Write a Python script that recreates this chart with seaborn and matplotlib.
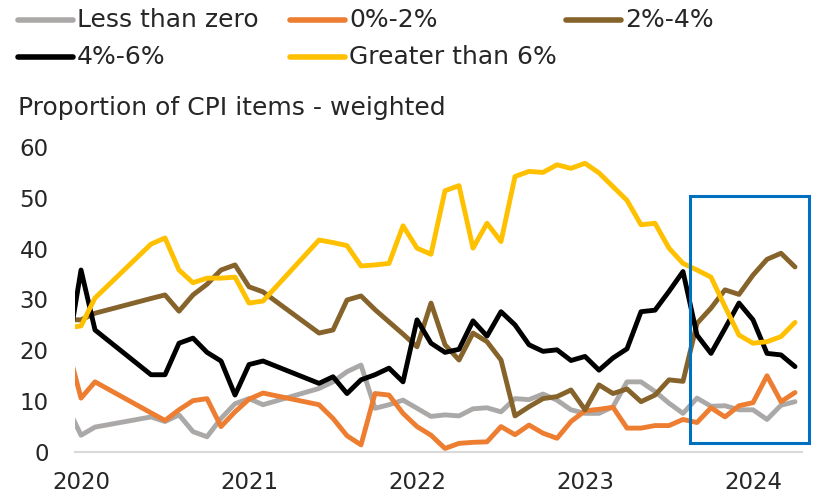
import matplotlib
matplotlib.use("Agg")
import matplotlib.pyplot as plt
import seaborn as sns
import pandas as pd
from matplotlib.lines import Line2D
from matplotlib.patches import Rectangle

# months since Jan 2020 (some months missing in the source data)
months = [-1, 0, 1] + list(range(5, 14)) + list(range(17, 52))

less_than_zero = [9.0, 3.3, 4.9, 6.9, 6.0, 7.3, 4.0, 3.0, 6.6, 9.5, 10.5, 9.3,
                  12.5, 13.8, 15.8, 17.1, 8.6, 9.3, 10.2, 8.6, 7.0, 7.3, 7.1, 8.5,
                  8.7, 7.9, 10.5, 10.3, 11.4, 10.2, 8.3, 7.6, 7.6, 8.9, 13.8, 13.8,
                  11.9, 9.6, 7.6, 10.6, 9.0, 9.1, 8.3, 8.3, 6.4, 9.2, 9.9]
zero_to_two = [21.0, 10.6, 13.8, 7.7, 6.2, 8.3, 10.1, 10.5, 5.0, 7.9, 10.4, 11.6,
               9.3, 6.6, 3.2, 1.4, 11.5, 11.2, 7.6, 5.0, 3.3, 0.7, 1.7, 1.9,
               2.0, 5.0, 3.4, 5.3, 3.7, 2.7, 6.0, 8.1, 8.4, 8.8, 4.7, 4.7,
               5.2, 5.2, 6.4, 5.8, 8.7, 6.9, 9.1, 9.7, 15.0, 9.9, 11.7]
two_to_four = [26.0, 26.0, 27.3, 30.2, 30.9, 27.7, 30.9, 33.0, 35.8, 36.8, 32.5, 31.5,
               23.4, 24.0, 29.9, 30.7, 28.0, 25.6, 23.2, 20.7, 29.3, 21.1, 18.1, 23.4,
               21.7, 18.1, 7.1, 8.9, 10.5, 10.9, 12.2, 8.3, 13.2, 11.5, 12.4, 9.9,
               11.2, 14.2, 13.9, 25.3, 28.3, 31.9, 31.0, 34.8, 37.9, 39.1, 36.4]
four_to_six = [19.0, 35.8, 24.0, 15.2, 15.2, 21.4, 22.4, 19.6, 17.9, 11.2, 17.2, 17.9,
               13.5, 14.8, 11.5, 14.2, 15.2, 16.5, 13.8, 26.0, 21.4, 19.6, 20.2, 25.8,
               22.8, 27.6, 25.0, 21.1, 19.8, 20.1, 18.0, 18.8, 16.1, 18.5, 20.3, 27.6,
               27.9, 31.6, 35.5, 23.0, 19.4, 24.3, 29.3, 26.0, 19.4, 19.1, 16.8]
greater_than_six = [24.4, 24.8, 30.3, 40.9, 42.1, 35.8, 33.3, 34.2, 34.2, 34.4, 29.3, 29.7,
                    41.7, 41.2, 40.6, 36.6, 36.8, 37.1, 44.5, 40.1, 38.9, 51.4, 52.4, 40.1,
                    45.0, 41.4, 54.2, 55.2, 55.0, 56.5, 55.8, 56.8, 54.9, 52.2, 49.5, 44.7,
                    45.0, 40.1, 37.1, 35.8, 34.4, 28.6, 23.0, 21.4, 21.7, 22.7, 25.5]

series_names = ["Less than zero", "0%-2%", "2%-4%", "4%-6%", "Greater than 6%"]
colors = ["#ABA8A8", "#ED7D31", "#85632A", "#000000", "#FFC000"]
year_ticks = [0, 12, 24, 36, 48]
year_labels = ["2020", "2021", "2022", "2023", "2024"]

frames = []
for name, vals in zip(series_names, [less_than_zero, zero_to_two, two_to_four,
                                     four_to_six, greater_than_six]):
    frames.append(pd.DataFrame({"month": months, "value": vals, "series": name}))
df = pd.concat(frames, ignore_index=True)

sns.set_theme(style="white")
plt.rcParams["font.family"] = ["DejaVu Sans"]
FS = 16.5   # tick labels
TFS = 18    # legend / title (source font is wider than DejaVu)

fig = plt.figure(figsize=(8.17, 4.96), dpi=100)
ax = fig.add_axes([75 / 817, 1 - 452 / 496, 727 / 817, 305 / 496])

sns.lineplot(data=df, x="month", y="value", hue="series", hue_order=series_names,
             palette=colors, linewidth=3.5, legend=False, sort=True, ax=ax,
             solid_joinstyle="round", solid_capstyle="round")

ax.set_xlim(-0.43, 51.5)
ax.set_ylim(0, 60)
ax.set_xticks(year_ticks)
ax.set_xticklabels(year_labels)
ax.set_yticks(range(0, 61, 10))
ax.set_xlabel("")
ax.set_ylabel("")
ax.tick_params(axis="y", length=0, pad=19, labelsize=FS)
ax.tick_params(axis="x", length=0, pad=14, labelsize=FS)
for s in ["top", "right", "left"]:
    ax.spines[s].set_visible(False)
ax.spines["bottom"].set_color("#D9D9D9")
ax.spines["bottom"].set_linewidth(1.5)

# highlight box around the latest months
ax.add_patch(Rectangle((43.5, 1.7), 8.5, 48.6, fill=False, edgecolor="#0070C0",
                       linewidth=2.2, clip_on=False, zorder=5))

# legend laid out like the original (3 columns, 2 rows)
leg_pos = [(18, 20), (290, 20), (566, 20), (18, 57), (290, 57)]
for (px, py), name, c in zip(leg_pos, series_names, colors):
    yy = 1 - py / 496
    fig.add_artist(Line2D([px / 817, (px + 55) / 817], [yy, yy], color=c,
                          linewidth=4, solid_capstyle="round"))
    fig.text((px + 59) / 817, yy, name, fontsize=TFS, va="center", ha="left")

fig.text(18 / 817, 1 - 108 / 496, "Proportion of CPI items - weighted",
         fontsize=TFS, va="center", ha="left")

fig.savefig("out.png", dpi=100)
